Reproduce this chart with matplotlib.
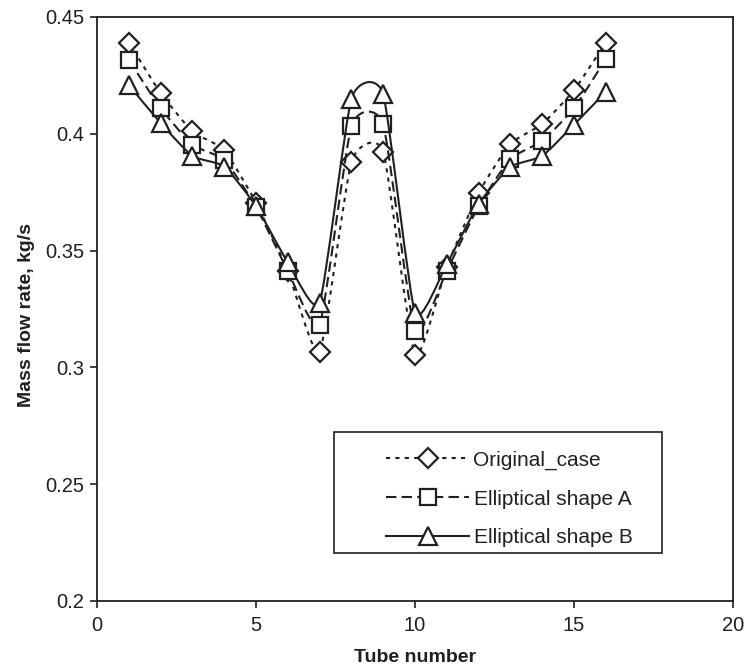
import numpy as np
import matplotlib
matplotlib.use('Agg')
from matplotlib import pyplot as plt
from matplotlib.path import Path
from matplotlib.patches import PathPatch, Rectangle
from matplotlib.lines import Line2D

plt.rcParams['font.family'] = ['Liberation Sans', 'DejaVu Sans']

tubes = [1, 2, 3, 4, 5, 6, 7, 8, 9, 10, 11, 12, 13, 14, 15, 16]
original_case = [0.439, 0.4175, 0.401, 0.393, 0.3705, 0.3413, 0.3066, 0.388,
                 0.3923, 0.3053, 0.343, 0.3746, 0.3957, 0.4042, 0.4187, 0.439]
shape_a = [0.4316, 0.411, 0.3953, 0.3888, 0.3687, 0.3414, 0.3183, 0.4033,
           0.404, 0.3157, 0.3414, 0.369, 0.3892, 0.397, 0.411, 0.432]
shape_b = [0.4209, 0.4046, 0.3905, 0.386, 0.369, 0.345, 0.3277, 0.415,
           0.4169, 0.3234, 0.3443, 0.370, 0.3858, 0.3905, 0.4039, 0.418]
labels = ['Original_case', 'Elliptical shape A', 'Elliptical shape B']
yticks = [0.2, 0.25, 0.3, 0.35, 0.4, 0.45]
ytick_labels = ['0.2', '0.25', '0.3', '0.35', '0.4', '0.45']
xticks = [0, 5, 10, 15, 20]

ink = '#231f20'


def smooth_path(x, y, tension=0.09):
    # cubic bezier through every point, tangents from neighbours
    p = np.column_stack([x, y]).astype(float)
    ext = np.vstack([p[0], p, p[-1]])
    verts = [p[0]]
    codes = [Path.MOVETO]
    for i in range(len(p) - 1):
        c1 = ext[i + 1] + (ext[i + 2] - ext[i]) * tension
        c2 = ext[i + 2] - (ext[i + 3] - ext[i + 1]) * tension
        verts += [c1, c2, ext[i + 2]]
        codes += [Path.CURVE4] * 3
    return Path(verts, codes)


fig = plt.figure(figsize=(7.45, 6.67), dpi=100)
ax = fig.add_axes([97 / 745, 1 - 601 / 667, 636 / 745, 584 / 667])

styles = [
    dict(marker='D', ms=10.5, ls=(0, (2.0, 2.5))),
    dict(marker='s', ms=11.5, ls=(0, (5, 2.5))),
    dict(marker='^', ms=12.5, ls='-'),
]
series = [original_case, shape_a, shape_b]
handles = []
for k, (vals, st) in enumerate(zip(series, styles)):
    patch = PathPatch(smooth_path(tubes, vals), fill=False, edgecolor=ink,
                      lw=1.5, linestyle=st['ls'], zorder=2 + 2 * k)
    ax.add_patch(patch)
    ax.plot(tubes, vals, ls='none', marker=st['marker'], ms=st['ms'],
            mfc='white', mec=ink, mew=1.6, zorder=3 + 2 * k, clip_on=False)
    handles.append(Line2D([], [], color=ink, lw=1.5, ls=st['ls'],
                          marker=st['marker'], ms=st['ms'], mfc='white',
                          mec=ink, mew=1.6))

ax.set_xlim(0, 20)
ax.set_ylim(0.2, 0.45)
ax.set_xticks(xticks)
ax.set_yticks(yticks)
ax.set_yticklabels(ytick_labels)
ax.tick_params(direction='out', length=5, width=1.2, colors=ink,
               labelsize=14.5, pad=4)
ax.tick_params(axis='x', pad=6)
for s in ax.spines.values():
    s.set_color(ink)
    s.set_linewidth(1.3)

ax.set_xlabel('Tube number', fontsize=14, fontweight='bold', color=ink,
              va='center')
ax.xaxis.set_label_coords(0.5, (601 - 657) / 584)
ax.set_ylabel('Mass flow rate, kg/s', fontsize=14, fontweight='bold',
              color=ink, va='center')
ax.yaxis.set_label_coords((27 - 97) / 636, 0.49)

# legend box
bx0, bx1 = (334 - 97) / 636, (662 - 97) / 636
by0, by1 = (601 - 553) / 584, (601 - 432) / 584
ax.add_patch(Rectangle((bx0, by0), bx1 - bx0, by1 - by0,
                       transform=ax.transAxes, fill=True, facecolor='white',
                       edgecolor=ink, lw=1.2, zorder=10))
leg = ax.legend(handles, labels, loc='center left',
                bbox_to_anchor=((386 - 97) / 636, (601 - 499) / 584),
                frameon=False, fontsize=15, handlelength=4.0,
                handletextpad=0.2, labelspacing=0.95, numpoints=1,
                borderpad=0, borderaxespad=0)
leg.set_zorder(11)
for t in leg.get_texts():
    t.set_color(ink)

fig.savefig('out.png', dpi=100)
